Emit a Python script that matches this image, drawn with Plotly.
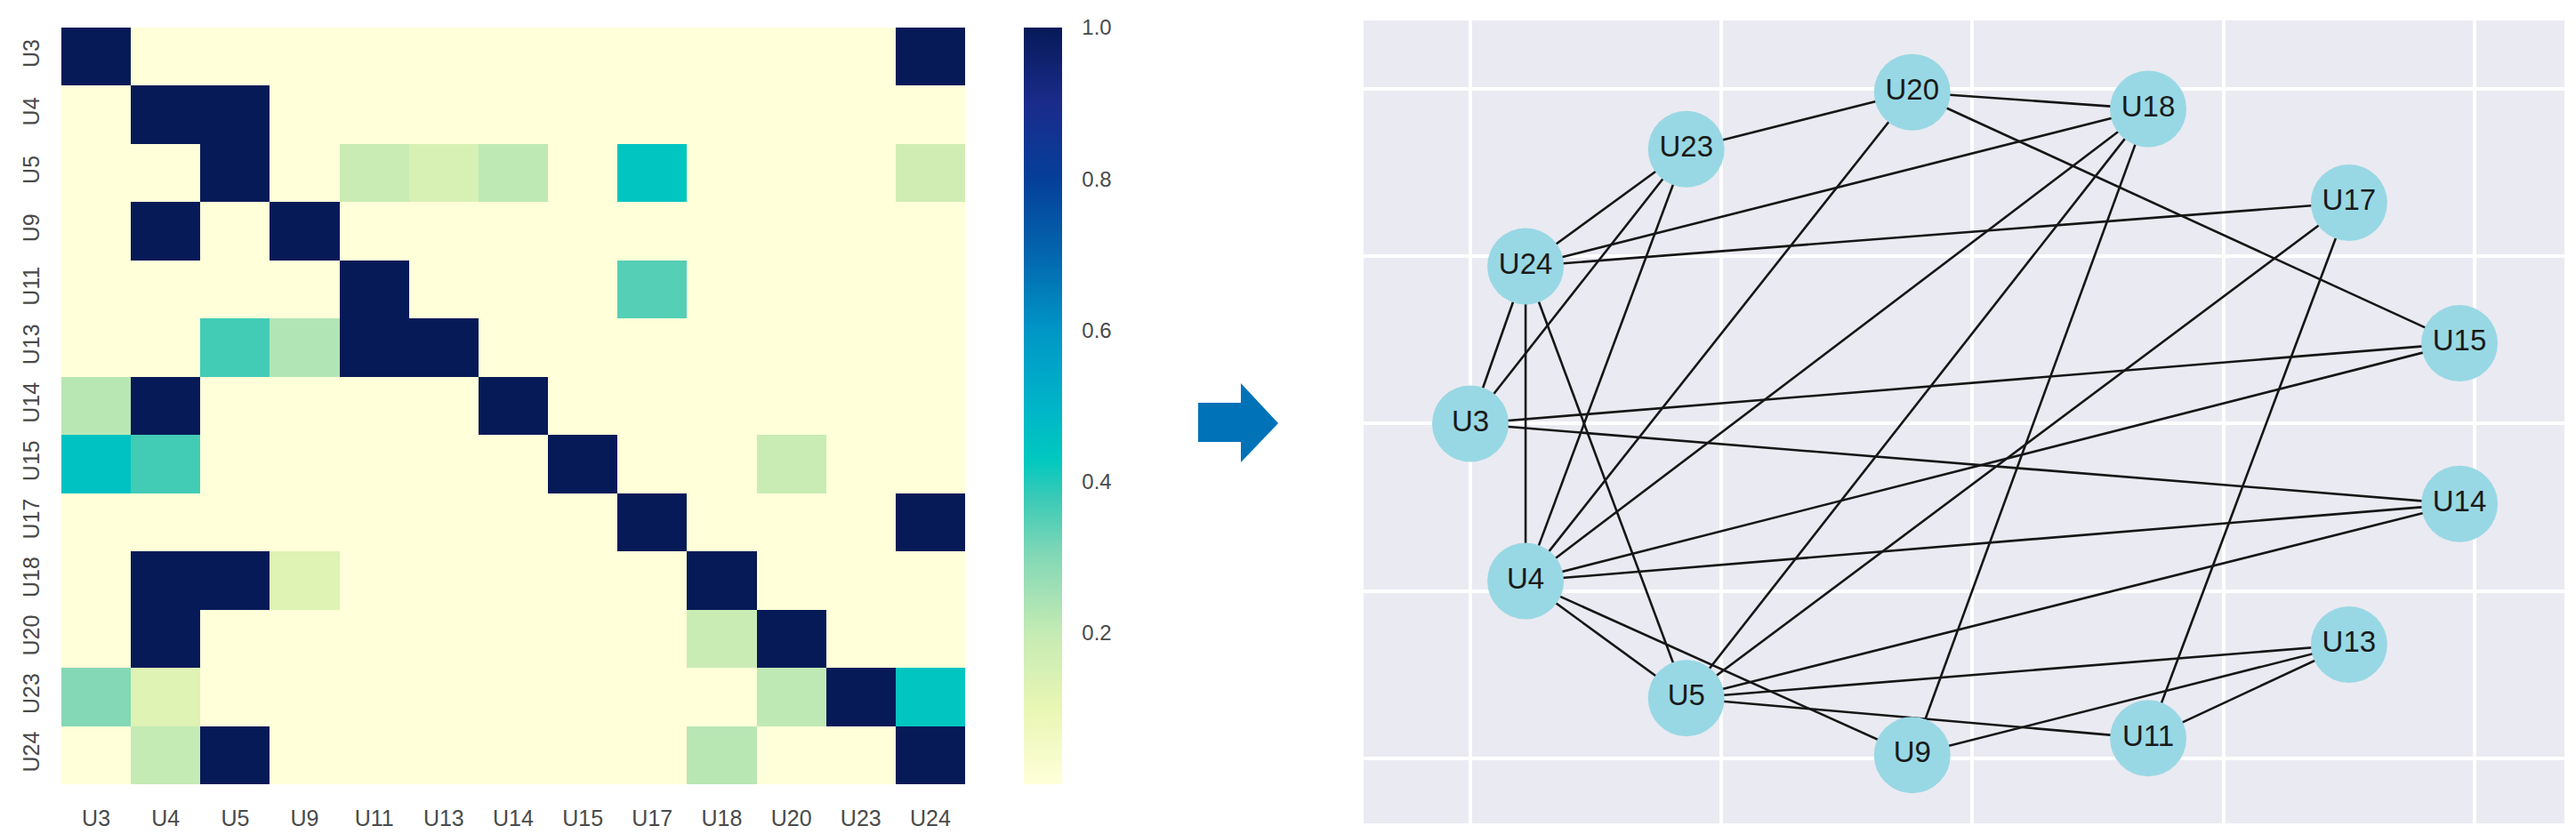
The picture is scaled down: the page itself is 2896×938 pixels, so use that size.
import plotly.graph_objects as go

W, H = 2896, 938

# ---------------- data ----------------
users = ["U3", "U4", "U5", "U9", "U11", "U13", "U14", "U15", "U17", "U18", "U20", "U23", "U24"]

row_U3  = [1.00, 0.00, 0.00, 0.00, 0.00, 0.00, 0.00, 0.00, 0.00, 0.00, 0.00, 0.00, 1.00]
row_U4  = [0.00, 1.00, 1.00, 0.00, 0.00, 0.00, 0.00, 0.00, 0.00, 0.00, 0.00, 0.00, 0.00]
row_U5  = [0.00, 0.00, 1.00, 0.00, 0.19, 0.15, 0.21, 0.00, 0.44, 0.00, 0.00, 0.00, 0.17]
row_U9  = [0.00, 1.00, 0.00, 1.00, 0.00, 0.00, 0.00, 0.00, 0.00, 0.00, 0.00, 0.00, 0.00]
row_U11 = [0.00, 0.00, 0.00, 0.00, 1.00, 0.00, 0.00, 0.00, 0.35, 0.00, 0.00, 0.00, 0.00]
row_U13 = [0.00, 0.00, 0.37, 0.23, 1.00, 1.00, 0.00, 0.00, 0.00, 0.00, 0.00, 0.00, 0.00]
row_U14 = [0.22, 1.00, 0.00, 0.00, 0.00, 0.00, 1.00, 0.00, 0.00, 0.00, 0.00, 0.00, 0.00]
row_U15 = [0.45, 0.37, 0.00, 0.00, 0.00, 0.00, 0.00, 1.00, 0.00, 0.00, 0.19, 0.00, 0.00]
row_U17 = [0.00, 0.00, 0.00, 0.00, 0.00, 0.00, 0.00, 0.00, 1.00, 0.00, 0.00, 0.00, 1.00]
row_U18 = [0.00, 1.00, 1.00, 0.13, 0.00, 0.00, 0.00, 0.00, 0.00, 1.00, 0.00, 0.00, 0.00]
row_U20 = [0.00, 1.00, 0.00, 0.00, 0.00, 0.00, 0.00, 0.00, 0.00, 0.19, 1.00, 0.00, 0.00]
row_U23 = [0.30, 0.13, 0.00, 0.00, 0.00, 0.00, 0.00, 0.00, 0.00, 0.00, 0.21, 1.00, 0.44]
row_U24 = [0.00, 0.20, 1.00, 0.00, 0.00, 0.00, 0.00, 0.00, 0.00, 0.22, 0.00, 0.00, 1.00]

cbar_ticks = [0.2, 0.4, 0.6, 0.8, 1.0]
cbar_ticktext = ["0.2", "0.4", "0.6", "0.8", "1.0"]

# network (circular layout) node positions
node_names = ["U3", "U24", "U23", "U20", "U18", "U17", "U15", "U14", "U13", "U11", "U9", "U5", "U4"]
node_x = [-1.00, -0.89, -0.57, -0.12, 0.35, 0.75, 0.97, 0.97, 0.75, 0.35, -0.12, -0.57, -0.89]
node_y = [0.00, 0.47, 0.82, 0.99, 0.94, 0.66, 0.24, -0.24, -0.66, -0.94, -0.99, -0.82, -0.47]

edge_source = ["U3", "U4", "U5", "U5", "U5", "U5", "U5", "U4", "U11", "U9", "U11", "U3", "U4", "U3",
               "U4", "U15", "U17", "U4", "U5", "U9", "U4", "U18", "U3", "U4", "U20", "U23", "U4", "U18"]
edge_target = ["U24", "U5", "U11", "U13", "U14", "U17", "U24", "U9", "U17", "U13", "U13", "U14", "U14", "U15",
               "U15", "U20", "U24", "U18", "U18", "U18", "U20", "U20", "U23", "U23", "U23", "U24", "U24", "U24"]

# ---------------- styling ----------------
FONT = "Liberation Sans, Arial, sans-serif"
ylgnbu = [
    [0.00, "#ffffd9"], [0.10, "#e9f6b4"], [0.20, "#c5ebb4"], [0.30, "#84d8b6"],
    [0.38, "#38cab6"], [0.43, "#00c8c0"], [0.50, "#00b4c8"], [0.60, "#0096c6"],
    [0.70, "#0466ae"], [0.80, "#053f9a"], [0.90, "#1b2b8b"], [1.00, "#061a58"],
]

z = [row_U3, row_U4, row_U5, row_U9, row_U11, row_U13, row_U14, row_U15,
     row_U17, row_U18, row_U20, row_U23, row_U24]

fig = go.Figure()

fig.add_trace(go.Heatmap(
    z=z, x=users, y=users, zmin=0, zmax=1, colorscale=ylgnbu,
    xaxis="x", yaxis="y",
    colorbar=dict(
        x=1143 / W, xanchor="left", xpad=0, ypad=0,
        y=1 - (23 + 874) / 2 / H, yanchor="middle",
        len=851, lenmode="pixels", thickness=43, thicknessmode="pixels",
        outlinewidth=0,
        tickvals=cbar_ticks, ticktext=cbar_ticktext,
        ticks="outside", ticklen=18, tickcolor="rgba(0,0,0,0)",
        tickfont=dict(family=FONT, size=24, color="#4a4a4a"),
    ),
))

# network edges
pos = {n: (x, y) for n, x, y in zip(node_names, node_x, node_y)}
ex, ey = [], []
for s, t in zip(edge_source, edge_target):
    ex += [pos[s][0], pos[t][0], None]
    ey += [pos[s][1], pos[t][1], None]

fig.add_trace(go.Scatter(
    x=ex, y=ey, mode="lines", xaxis="x2", yaxis="y2",
    line=dict(color="#161616", width=2.6), hoverinfo="skip", showlegend=False,
))
fig.add_trace(go.Scatter(
    x=node_x, y=node_y, mode="markers+text", text=node_names, textposition="middle center",
    xaxis="x2", yaxis="y2",
    marker=dict(size=86, color="#98d8e4", line=dict(width=0)),
    textfont=dict(family=FONT, size=33, color="#1a1a1a"),
    showlegend=False,
))

# blue arrow between the panels
pts = [(1339, 445), (1387, 445), (1387, 423), (1429, 468), (1387, 512), (1387, 489), (1339, 489)]
path = "M " + " L ".join(f"{px / W:.5f},{1 - py / H:.5f}" for px, py in pts) + " Z"
fig.add_shape(type="path", path=path, xref="paper", yref="paper",
              fillcolor="#0072b8", line=dict(width=0))

fig.update_layout(
    width=W, height=H,
    margin=dict(l=0, r=0, t=0, b=0),
    paper_bgcolor="white",
    plot_bgcolor="#eaeaf2",
    showlegend=False,
    xaxis=dict(domain=[61 / W, 1077 / W], type="category", showgrid=False, zeroline=False,
               showline=False, ticks="outside", ticklen=16, tickcolor="rgba(0,0,0,0)",
               tickfont=dict(family=FONT, size=25, color="#4a4a4a")),
    yaxis=dict(domain=[1 - 874 / H, 1 - 23 / H], type="category", autorange="reversed",
               showgrid=False, zeroline=False, showline=False, tickangle=-90,
               ticks="outside", ticklen=14, tickcolor="rgba(0,0,0,0)",
               tickfont=dict(family=FONT, size=25, color="#4a4a4a")),
    xaxis2=dict(domain=[1525 / W, 2875 / W], range=[-1.2126, 1.179], tick0=0, dtick=0.5,
                showgrid=True, gridcolor="white", gridwidth=3.5, zeroline=False,
                showticklabels=False, ticks="", showline=False, anchor="y2"),
    yaxis2=dict(domain=[1 - 918 / H, 1 - 15 / H], range=[-1.194, 1.2045], tick0=0, dtick=0.5,
                showgrid=True, gridcolor="white", gridwidth=3.5, zeroline=False,
                showticklabels=False, ticks="", showline=False, anchor="x2"),
)

fig.write_html("out.html")
